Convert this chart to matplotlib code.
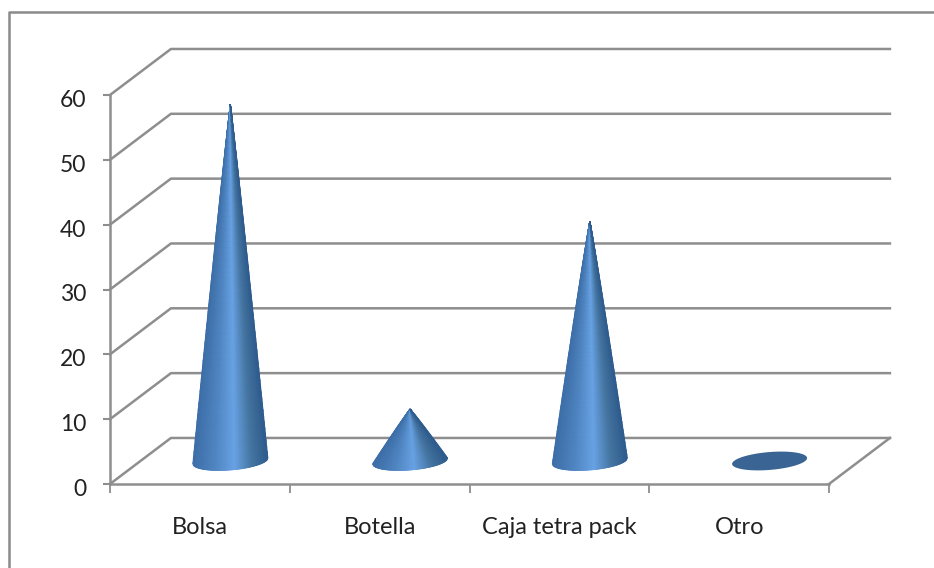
import numpy as np
from matplotlib import pyplot as plt
from matplotlib.colors import LinearSegmentedColormap
from matplotlib.lines import Line2D
from matplotlib.transforms import ScaledTranslation

categories = ['Bolsa', 'Botella', 'Caja tetra pack', 'Otro']
values = [55, 8, 37, 0]
y_ticks = [0, 10, 20, 30, 40, 50, 60]

grid_color = '#8e8e8e'
text_color = '#222222'

# floor depth offset, in axis units
depth_x = 0.339
depth_y = 7.1

# base ellipse of the cones, in axis units
base_a = (0.2086, 0.45)
base_b = 1.38

plt.rcParams['font.family'] = ['Lato', 'DejaVu Sans']

fig = plt.figure(figsize=(9.34, 5.68), dpi=100)
ax = fig.add_axes([110 / 934, (568 - 484) / 568, 719 / 934, 389 / 568])
ax.set_xlim(0, 4)
ax.set_ylim(0, 60)
ax.patch.set_visible(False)

for s in ['top', 'right']:
	ax.spines[s].set_visible(False)
for s in ['left', 'bottom']:
	ax.spines[s].set_color(grid_color)
	ax.spines[s].set_linewidth(1.8)

ax.set_xticks(range(5))
ax.set_xticklabels([])
ax.set_xticks([i + 0.5 for i in range(4)], categories, minor=True)
ax.set_yticks(y_ticks)
ax.tick_params(axis='x', which='major', length=6.5, width=1.3, color=grid_color)
ax.tick_params(axis='x', which='minor', length=0, pad=23.5, labelsize=17, labelcolor=text_color)
ax.tick_params(axis='y', length=5, width=1.5, color=grid_color, pad=12, labelsize=16.5, labelcolor=text_color)

# y labels sit a little under their ticks
for lab in ax.get_yticklabels():
	lab.set_transform(lab.get_transform() + ScaledTranslation(0, -2.5 / 72, fig.dpi_scale_trans))

# back wall lines and their returns to the axis
for v in y_ticks:
	ax.plot([0, depth_x, 4 + depth_x], [v, v + depth_y, v + depth_y], c=grid_color, lw=1.8, clip_on=False, zorder=1)
ax.plot([4, 4 + depth_x], [0, depth_y], c=grid_color, lw=1.8, clip_on=False, zorder=1)

cone_cmap = LinearSegmentedColormap.from_list('cone', [
	(0.0, '#3d6ea8'), (0.3, '#5086c2'), (0.56, '#69a3e5'),
	(0.8, '#44749f'), (1.0, '#2f5c8e')])

for i, v in enumerate(values):
	cx = i + 0.5 + depth_x / 2
	cy = depth_y / 2
	if v == 0:
		# empty category: only the flat base
		th = np.linspace(0, 2 * np.pi, 100)
		ex = cx + base_a[0] * np.cos(th)
		ey = cy + base_a[1] * np.cos(th) + base_b * np.sin(th)
		ax.fill(ex, ey, c='#3a6494', lw=0, zorder=3, clip_on=False)
		continue
	u = np.linspace(0, 1, 80)
	th = np.pi + np.arccos(1 - 2 * u)
	t = np.linspace(0, 1, 60)
	shrink = (1 - t) ** 0.95
	ex = base_a[0] * np.cos(th)
	ey = base_a[1] * np.cos(th) + base_b * np.sin(th)
	X = cx + np.outer(shrink, ex)
	Y = cy + np.outer(shrink, ey) + np.outer(t, np.ones_like(u)) * v
	C = np.tile(u, (len(t), 1))
	ax.pcolormesh(X, Y, C, cmap=cone_cmap, shading='gouraud', zorder=3, clip_on=False)

# outer frame of the chart area
fig.add_artist(Line2D([9 / 934, 9 / 934, 1], [0, 556 / 568, 556 / 568], c='#8a8a8a', lw=1.8))

fig.savefig('out.png', dpi=100)
